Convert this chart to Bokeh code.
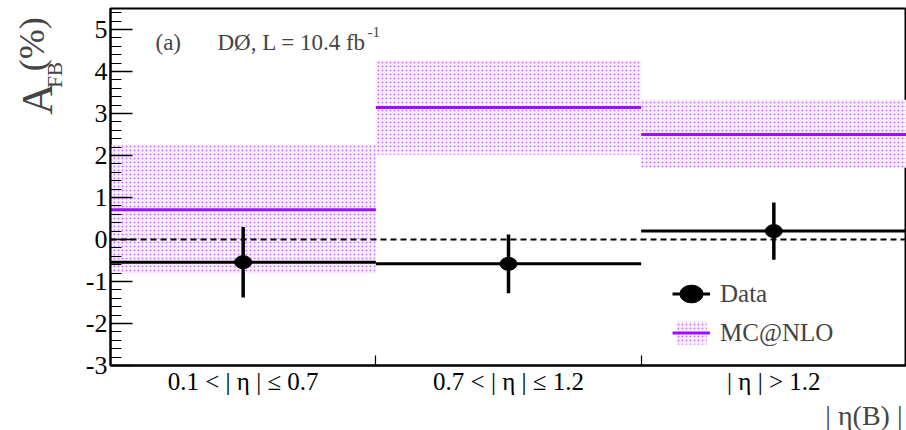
import math
from bokeh.plotting import figure
from bokeh.layouts import row
from bokeh.models import (Range1d, FixedTicker, SingleIntervalTicker, Span, Label,
                          Legend, LegendItem, ColumnDataSource, Title)
from bokeh.embed import file_html
from bokeh.resources import INLINE

# ---- data ----
bin_labels = ["0.1 < | η | ≤ 0.7", "0.7 < | η | ≤ 1.2", "| η | > 1.2"]
bin_lo = [0.0, 1.0, 2.0]
bin_hi = [1.0, 2.0, 3.0]
bin_center = [0.5, 1.5, 2.5]
data_val = [-0.54, -0.58, 0.20]
data_err = [0.84, 0.70, 0.68]
mc_val = [0.71, 3.14, 2.50]
mc_band_top = [2.26, 4.26, 3.33]
mc_band_bottom = [-0.81, 2.02, 1.71]
y_ticks = [-3, -2, -1, 0, 1, 2, 3, 4, 5]

FONT = "Liberation Serif"
VIOLET = "#9a10ff"

src = ColumnDataSource(dict(
    lo=bin_lo, hi=bin_hi, c=bin_center,
    dv=data_val,
    dtop=[v + e for v, e in zip(data_val, data_err)],
    dbot=[v - e for v, e in zip(data_val, data_err)],
    mc=mc_val, btop=mc_band_top, bbot=mc_band_bottom,
))

# ---- left strip holding the rotated y-axis title ----
LW = 72
t = figure(width=LW, height=430, output_backend="svg", toolbar_location=None,
           x_range=Range1d(0, LW), y_range=Range1d(0, 430),
           x_axis_location=None, y_axis_location=None,
           min_border=0, min_border_left=0, min_border_right=0,
           min_border_top=0, min_border_bottom=0)
t.outline_line_color = None
t.xgrid.visible = False
t.ygrid.visible = False
t.background_fill_color = "white"
t.border_fill_color = "white"
t.add_layout(Label(x=37, y=430 - 109, text="A", text_font=FONT,
                   text_font_size="44px", angle=math.pi / 2,
                   text_baseline="middle", text_align="center"))
t.add_layout(Label(x=54, y=430 - 80, text="FB", text_font=FONT,
                   text_font_size="21px", angle=math.pi / 2,
                   text_baseline="middle", text_align="center"))
t.add_layout(Label(x=31, y=430 - 43, text="(%)", text_font=FONT,
                   text_font_size="36px", angle=math.pi / 2,
                   text_baseline="middle", text_align="center"))

# ---- main plot ----
p = figure(width=906 - LW, height=430, output_backend="svg", toolbar_location=None,
           x_range=Range1d(0, 3), y_range=Range1d(-3, 5.5),
           min_border_left=110 - LW, min_border_right=0, min_border_top=8,
           min_border_bottom=65)
p.background_fill_color = "white"
p.border_fill_color = "white"
p.outline_line_color = "black"
p.outline_line_width = 2
p.xgrid.visible = False
p.ygrid.visible = False

xa = p.xaxis[0]
xa.ticker = FixedTicker(ticks=bin_center, minor_ticks=[1.0, 2.0])
xa.major_label_overrides = {c: l for c, l in zip(bin_center, bin_labels)}
xa.major_tick_in = 0
xa.major_tick_out = 0
xa.minor_tick_in = 10
xa.minor_tick_out = 0
xa.minor_tick_line_width = 1.2
xa.axis_line_width = 2
xa.major_label_text_font = FONT
xa.major_label_text_font_size = "25px"
xa.major_label_text_color = "black"
xa.major_label_standoff = 2

ya = p.yaxis[0]
ya.ticker = SingleIntervalTicker(interval=1, num_minor_ticks=5)
ya.major_label_overrides = {tk: str(tk) for tk in y_ticks}
ya.major_tick_in = 22
ya.major_tick_out = 0
ya.major_tick_line_width = 1.5
ya.minor_tick_in = 11
ya.minor_tick_out = 0
ya.minor_tick_line_width = 1.2
ya.axis_line_width = 2
ya.major_label_text_font = FONT
ya.major_label_text_font_size = "26px"
ya.major_label_text_color = "black"
ya.major_label_standoff = 3

# x-axis title, right aligned under the tick labels
p.add_layout(Title(text="| η(B) |", align="right", text_font=FONT,
                   text_font_size="28px", text_font_style="normal",
                   standoff=0, offset=4), "below")

# MC@NLO band and line
band = p.quad(left="lo", right="hi", top="btop", bottom="bbot", source=src,
              fill_color="#faf1fd", fill_alpha=1.0, line_color=None,
              hatch_pattern="dot", hatch_color="#b54dff", hatch_scale=4,
              hatch_weight=1.1, hatch_alpha=0.75)
mcline = p.segment(x0="lo", x1="hi", y0="mc", y1="mc", source=src,
                   line_color=VIOLET, line_width=3)

# zero line
p.add_layout(Span(location=0, dimension="width", line_color="black",
                  line_width=1.8, line_dash="6 4"))

# Data
dline = p.segment(x0="lo", x1="hi", y0="dv", y1="dv", source=src,
                  line_color="black", line_width=3)
derr = p.segment(x0="c", x1="c", y0="dbot", y1="dtop", source=src,
                 line_color="black", line_width=3.5)
dmark = p.ellipse(x="c", y="dv", width=17, height=13, width_units="screen",
                  height_units="screen", source=src, fill_color="black",
                  line_color="black")

legend = Legend(items=[
    LegendItem(label="Data", renderers=[dline, dmark]),
    LegendItem(label="MC@NLO", renderers=[band, mcline]),
], location=(562, 18), glyph_width=38, glyph_height=29, spacing=10,
    label_standoff=10, padding=0, margin=0, border_line_color=None,
    background_fill_alpha=0, label_text_font=FONT,
    label_text_font_size="25px", label_height=29)
p.add_layout(legend)

# pixel-layout -> data helpers for the in-frame annotation
def dx(px):
    return (px - 110) / (796 / 3.0)

def dy(py):
    return (239 - py) / 42.0

p.add_layout(Label(x=dx(155), y=dy(42), text="(a)", text_font=FONT,
                   text_font_size="23px", text_baseline="alphabetic"))
p.add_layout(Label(x=dx(217), y=dy(42), text="DØ, L = 10.4 fb", text_font=FONT,
                   text_font_size="23px", text_baseline="alphabetic"))
p.add_layout(Label(x=dx(367), y=dy(31), text="-1", text_font=FONT,
                   text_font_size="15px", text_baseline="alphabetic"))

open("out.html", "w").write(file_html(row(t, p), INLINE))
